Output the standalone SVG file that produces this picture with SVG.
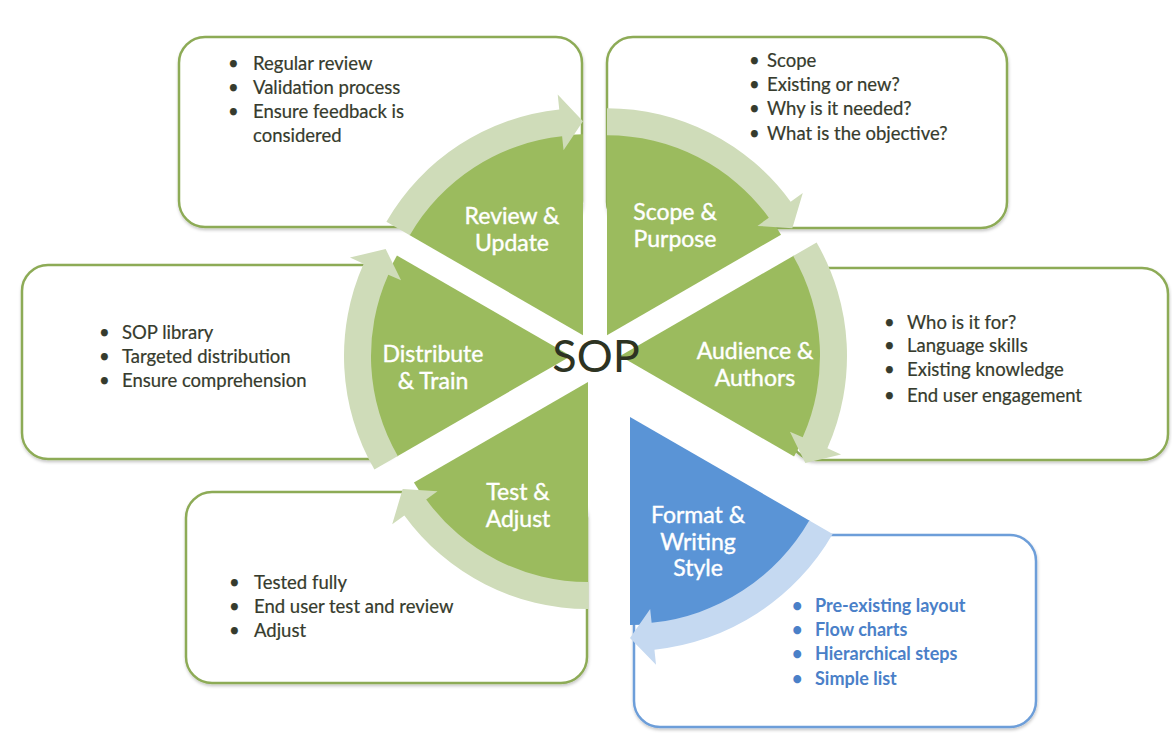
<svg xmlns="http://www.w3.org/2000/svg" xmlns:xlink="http://www.w3.org/1999/xlink" width="1172" height="752" viewBox="0 0 1172 752">
  <defs>
    <style>
      .box { fill: #ffffff; stroke: #8dab57; stroke-width: 2.5; filter: url(#shadow); }
      .box-blue { fill: #ffffff; stroke: #6d9ed9; stroke-width: 2.5; filter: url(#shadow); }
      .wedge { fill: #9bbb5e; }
      .wedge-blue { fill: #5a94d6; }
      .arc { fill: #cfdcb9; }
      .arc-blue { fill: #c5d9f1; }
      .label { font-family: Lato, "Liberation Sans", sans-serif; font-size: 23px; fill: #ffffff; stroke: #ffffff; stroke-width: 0.4; text-anchor: middle; }
      .item { font-family: Lato, "Liberation Sans", sans-serif; font-size: 18.5px; fill: #363b2d; stroke: #363b2d; stroke-width: 0.2; }
      .item-blue { font-family: Lato, "Liberation Sans", sans-serif; font-size: 18px; font-weight: bold; fill: #4a80c8; }
      .center { font-family: Lato, "Liberation Sans", sans-serif; font-size: 45px; fill: #2d3322; text-anchor: middle; }
    </style>
    <filter id="shadow" x="-5%" y="-5%" width="110%" height="115%">
      <feDropShadow dx="0.5" dy="2" stdDeviation="1.5" flood-color="#000000" flood-opacity="0.22"/>
    </filter>
    <!-- pie segment, bisector along +x -->
    <path id="seg" d="M0,0 L174.07,-100.5 A201,201 0 0 1 174.07,100.5 Z"/>
    <path id="seg-lg" d="M0,0 L180.13,-104 A208,208 0 0 1 180.13,104 Z"/>
    <!-- curved arrow running clockwise along the outside of a segment -->
    <path id="band" d="M196.59,-113.5 A227,227 0 0 1 207.38,92.33 L221.08,98.43 L185.33,107 L169.92,75.65 L182.71,81.35 A200,200 0 0 0 173.21,-100 Z"/>
    <path id="band-lg" d="M202.65,-117 A234,234 0 0 1 213.77,95.18 L227.47,101.28 L191.39,110.5 L176.31,78.5 L189.10,84.20 A207,207 0 0 0 179.27,-103.5 Z"/>
  </defs>

  <rect width="1172" height="752" fill="#ffffff"/>

  <!-- Review & Update -->
  <g id="review-update">
    <rect class="box" x="179" y="37" width="403" height="190" rx="26"/>
    <use xlink:href="#seg" class="wedge" transform="translate(583,335.22) rotate(-120)"/>
    <text class="label" x="512" y="224">Review &amp;</text>
    <text class="label" x="512" y="251">Update</text>
    <text class="item" y="70"><tspan x="228">•</tspan><tspan x="253">Regular review</tspan></text>
    <text class="item" y="94"><tspan x="228">•</tspan><tspan x="253">Validation process</tspan></text>
    <text class="item" y="118"><tspan x="228">•</tspan><tspan x="253">Ensure feedback is</tspan></text>
    <text class="item" x="253" y="142">considered</text>
  </g>

  <!-- Scope & Purpose -->
  <g id="scope-purpose">
    <rect class="box" x="607" y="37" width="400" height="191" rx="26"/>
    <use xlink:href="#seg" class="wedge" transform="translate(607,335.22) rotate(-60)"/>
    <text class="label" x="675" y="220">Scope &amp;</text>
    <text class="label" x="675" y="247">Purpose</text>
    <text class="item" y="67"><tspan x="749">•</tspan><tspan x="767">Scope</tspan></text>
    <text class="item" y="91"><tspan x="749">•</tspan><tspan x="767">Existing or new?</tspan></text>
    <text class="item" y="115"><tspan x="749">•</tspan><tspan x="767">Why is it needed?</tspan></text>
    <text class="item" y="140"><tspan x="749">•</tspan><tspan x="767">What is the objective?</tspan></text>
  </g>

  <!-- Audience & Authors -->
  <g id="audience-authors">
    <rect class="box" x="790" y="268" width="378" height="192" rx="26"/>
    <use xlink:href="#seg" class="wedge" transform="translate(620,356)"/>
    <text class="label" x="755" y="359">Audience &amp;</text>
    <text class="label" x="755" y="386">Authors</text>
    <text class="item" y="329"><tspan x="884">•</tspan><tspan x="907">Who is it for?</tspan></text>
    <text class="item" y="352"><tspan x="884">•</tspan><tspan x="907">Language skills</tspan></text>
    <text class="item" y="376"><tspan x="884">•</tspan><tspan x="907">Existing knowledge</tspan></text>
    <text class="item" y="402"><tspan x="884">•</tspan><tspan x="907">End user engagement</tspan></text>
  </g>

  <!-- Format & Writing Style -->
  <g id="format-style">
    <rect class="box-blue" x="634" y="535" width="402" height="192" rx="26"/>
    <use xlink:href="#seg-lg" class="wedge-blue" transform="translate(630,417) rotate(60)"/>
    <text class="label" x="698" y="523">Format &amp;</text>
    <text class="label" x="698" y="550">Writing</text>
    <text class="label" x="698" y="576">Style</text>
    <text class="item-blue" y="612"><tspan x="792">•</tspan><tspan x="815">Pre-existing layout</tspan></text>
    <text class="item-blue" y="636"><tspan x="792">•</tspan><tspan x="815">Flow charts</tspan></text>
    <text class="item-blue" y="660"><tspan x="792">•</tspan><tspan x="815">Hierarchical steps</tspan></text>
    <text class="item-blue" y="685"><tspan x="792">•</tspan><tspan x="815">Simple list</tspan></text>
  </g>

  <!-- Test & Adjust -->
  <g id="test-adjust">
    <rect class="box" x="186" y="492" width="401" height="191" rx="26"/>
    <use xlink:href="#seg" class="wedge" transform="translate(588,382) rotate(120)"/>
    <text class="label" x="518" y="500">Test &amp;</text>
    <text class="label" x="518" y="527">Adjust</text>
    <text class="item" y="589"><tspan x="229">•</tspan><tspan x="254">Tested fully</tspan></text>
    <text class="item" y="613"><tspan x="229">•</tspan><tspan x="254">End user test and review</tspan></text>
    <text class="item" y="637"><tspan x="229">•</tspan><tspan x="254">Adjust</tspan></text>
  </g>

  <!-- Distribute & Train -->
  <g id="distribute-train">
    <rect class="box" x="22" y="265" width="380" height="194" rx="26"/>
    <use xlink:href="#seg" class="wedge" transform="translate(571,356) rotate(180)"/>
    <text class="label" x="433" y="362">Distribute</text>
    <text class="label" x="433" y="389">&amp; Train</text>
    <text class="item" y="339"><tspan x="99">•</tspan><tspan x="122">SOP library</tspan></text>
    <text class="item" y="363"><tspan x="99">•</tspan><tspan x="122">Targeted distribution</tspan></text>
    <text class="item" y="387"><tspan x="99">•</tspan><tspan x="122">Ensure comprehension</tspan></text>
  </g>

  <!-- clockwise arrows joining the stages -->
  <g id="connectors">
    <use xlink:href="#band" class="arc" transform="translate(583,335.22) rotate(-120)"/>
    <use xlink:href="#band" class="arc" transform="translate(607,335.22) rotate(-60)"/>
    <use xlink:href="#band" class="arc" transform="translate(620,356)"/>
    <use xlink:href="#band-lg" class="arc-blue" transform="translate(630,417) rotate(60)"/>
    <use xlink:href="#band" class="arc" transform="translate(588,382) rotate(120)"/>
    <use xlink:href="#band" class="arc" transform="translate(571,356) rotate(180)"/>
  </g>

  <g id="sop">
    <text class="center" x="596" y="372">SOP</text>
  </g>
</svg>
